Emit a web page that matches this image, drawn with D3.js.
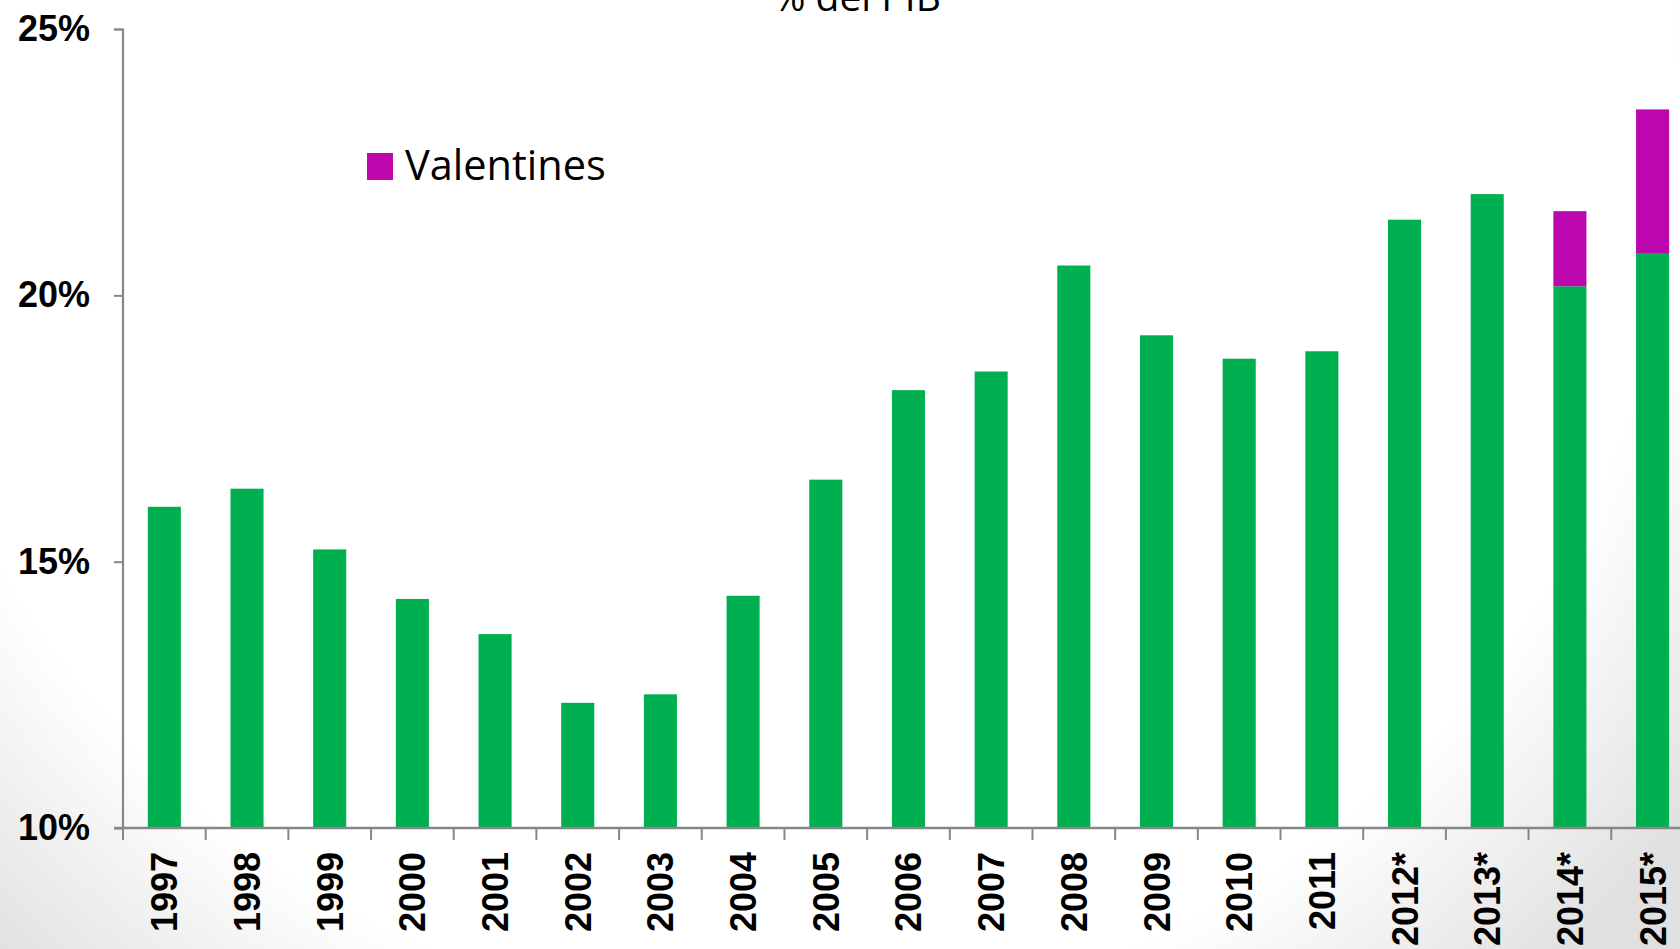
<!DOCTYPE html>
<html><head><meta charset="utf-8">
<script src="https://cdn.jsdelivr.net/npm/d3@7"></script>
<style>html,body{margin:0;padding:0;overflow:hidden;background:#fff}</style>
</head><body>
<svg id="chart" width="1680" height="949"></svg>
<script>
const categories = ["1997","1998","1999","2000","2001","2002","2003","2004","2005","2006","2007","2008","2009","2010","2011","2012*","2013*","2014*","2015*"];
const baseValues = [16.03,16.37,15.23,14.30,13.64,12.35,12.51,14.36,16.54,18.22,18.57,20.56,19.25,18.81,18.95,21.42,21.90,20.17,20.78];
const valentines = [0,0,0,0,0,0,0,0,0,0,0,0,0,0,0,0,0,1.41,2.71];
const yTicks = [10,15,20,25];
const titleText = "% del PIB";
const legendLabel = "Valentines";

const svg = d3.select("#chart");
const defs = svg.append("defs");
const grad = defs.append("radialGradient").attr("id","bg").attr("gradientUnits","userSpaceOnUse")
  .attr("cx",780).attr("cy",120).attr("r",1150);
grad.append("stop").attr("offset","0%").attr("stop-color","#ffffff");
grad.append("stop").attr("offset","78%").attr("stop-color","#ffffff");
grad.append("stop").attr("offset","100%").attr("stop-color","#e0e0e0");
svg.append("rect").attr("width",1680).attr("height",949).attr("fill","url(#bg)");

const x = d3.scaleBand().domain(categories).range([123, 123 + 19*82.68]).paddingInner(0.6).paddingOuter(0.3);
const y = d3.scaleLinear().domain([10,25]).range([828,29]);

const green = "#00AF50", purple = "#BE06AE", axisCol = "#878787";

// bars
svg.append("g").selectAll("rect").data(categories).join("rect")
  .attr("x", d => x(d)).attr("width", x.bandwidth())
  .attr("y", (d,i) => y(baseValues[i])).attr("height", (d,i) => y(10) - y(baseValues[i]))
  .attr("fill", green);
svg.append("g").selectAll("rect").data(categories.filter((d,i)=>valentines[i]>0)).join("rect")
  .attr("x", d => x(d)).attr("width", x.bandwidth())
  .attr("y", d => { const i = categories.indexOf(d); return y(baseValues[i]+valentines[i]); })
  .attr("height", d => { const i = categories.indexOf(d); return y(baseValues[i]) - y(baseValues[i]+valentines[i]); })
  .attr("fill", purple);

// y axis
const yAxis = svg.append("g").attr("transform","translate(123,0)")
  .call(d3.axisLeft(y).tickValues(yTicks).tickFormat(d => d + "%").tickSize(9).tickPadding(24));
yAxis.select(".domain").attr("stroke", axisCol).attr("stroke-width", 2.2).attr("d","M-9,29.5H0V828");
yAxis.selectAll(".tick line").attr("stroke", axisCol).attr("stroke-width", 2);
yAxis.selectAll(".tick text").attr("font-family","'Liberation Sans', Arial, sans-serif").attr("font-weight","bold")
  .attr("font-size", 36).attr("fill","#000").attr("textLength", 72).attr("lengthAdjust","spacingAndGlyphs");

// x axis line
svg.append("line").attr("x1",114).attr("x2",1680).attr("y1",828).attr("y2",828).attr("stroke",axisCol).attr("stroke-width",2.5);
// x ticks at band boundaries
svg.append("g").selectAll("line").data(categories).join("line")
  .attr("x1", d => x(d) - x.step()*0.3).attr("x2", d => x(d) - x.step()*0.3)
  .attr("y1", 829).attr("y2", 840).attr("stroke", axisCol).attr("stroke-width", 2);
// x labels
svg.append("g").selectAll("text").data(categories).join("text")
  .attr("transform", d => `translate(${x(d)+x.bandwidth()/2+13},852) rotate(-90)`)
  .attr("text-anchor","end")
  .attr("font-family","'Liberation Sans', Arial, sans-serif").attr("font-weight","bold")
  .attr("font-size", 36).attr("fill","#000")
  .text(d => d);

// title (cut off at top, as in the reference)
svg.append("text").attr("x", 857).attr("y", 11).attr("text-anchor","middle")
  .attr("font-family","'Open Sans', sans-serif").attr("font-size", 39).attr("fill","#000").text(titleText);

// legend
svg.append("rect").attr("x",367).attr("y",153).attr("width",26).attr("height",27).attr("fill",purple);
svg.append("text").attr("x",405).attr("y",180).attr("font-family","'Open Sans', sans-serif")
  .attr("font-size",41.5).attr("fill","#000").text(legendLabel);
</script>
</body></html>
